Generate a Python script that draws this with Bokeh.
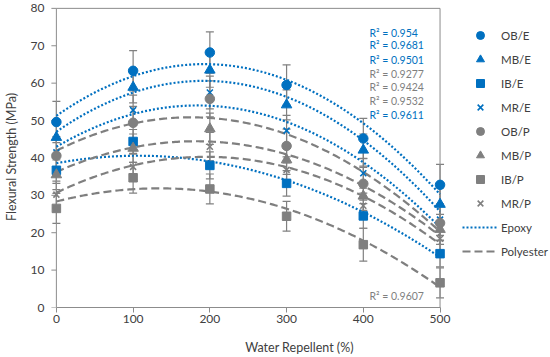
import numpy as np
from bokeh.plotting import figure
from bokeh.models import (Range1d, FixedTicker, Legend, LegendItem, Label,
                          Whisker, ColumnDataSource, TeeHead)
from bokeh.embed import file_html
from bokeh.resources import INLINE

# ---------------- data ----------------
water_repellent = [0, 100, 200, 300, 400, 500]
series_names = ["OB/E", "MB/E", "IB/E", "MR/E", "OB/P", "MB/P", "IB/P", "MR/P"]
resin = ["E", "E", "E", "E", "P", "P", "P", "P"]

ob_e = [49.6, 63.3, 68.2, 59.5, 45.2, 32.8]
mb_e = [45.5, 58.9, 63.5, 54.2, 42.1, 27.6]
ib_e = [36.7, 44.4, 38.0, 33.2, 24.5, 14.4]
mr_e = [41.5, 52.8, 57.5, 47.3, 35.9, 23.5]
ob_p = [40.6, 49.4, 55.8, 43.2, 33.1, 22.6]
mb_p = [35.5, 42.6, 47.8, 39.5, 29.8, 20.9]
ib_p = [26.5, 34.7, 31.7, 24.4, 16.8, 6.6]
mr_p = [30.2, 37.6, 43.0, 36.8, 27.2, 18.4]

err_ob_e = [5.5, 5.4, 5.5, 5.4, 5.4, 5.5]
err_mb_e = [4.5, 4.2, 4.6, 4.0, 4.3, 4.4]
err_ib_e = [3.5, 3.2, 3.6, 3.4, 3.3, 3.5]
err_mr_e = [4.2, 4.0, 4.4, 4.1, 4.0, 4.2]
err_ob_p = [4.6, 4.4, 4.8, 4.5, 4.4, 4.6]
err_mb_p = [4.0, 3.8, 4.2, 3.9, 3.8, 4.0]
err_ib_p = [4.0, 4.1, 4.0, 4.0, 4.4, 4.0]
err_mr_p = [3.6, 3.4, 3.8, 3.5, 3.4, 3.6]

values = [ob_e, mb_e, ib_e, mr_e, ob_p, mb_p, ib_p, mr_p]
errors = [err_ob_e, err_mb_e, err_ib_e, err_mr_e, err_ob_p, err_mb_p, err_ib_p, err_mr_p]

r2_text = ["R² = 0.954", "R² = 0.9681", "R² = 0.9501", "R² = 0.9277",
           "R² = 0.9424", "R² = 0.9532", "R² = 0.9611"]
r2_resin = ["E", "E", "E", "P", "P", "P", "E"]
r2_bottom_text = "R² = 0.9607"

x_ticks = [0, 100, 200, 300, 400, 500]
y_ticks = [0, 10, 20, 30, 40, 50, 60, 70, 80]
legend_resins = ["Epoxy", "Polyester"]

# ---------------- styles / layout ----------------
BLUE = "#0070C0"
GRAY = "#7F7F7F"
AXC = "#8C8C8C"
TXT = "#404040"
FONT = "Lato"
markers = ["circle", "triangle", "square", "x", "circle", "triangle", "square", "x"]
sizes = [9.5, 10.5, 8.5, 8.5, 9.5, 10.5, 8.5, 8.5]
colors = {"E": BLUE, "P": GRAY}
dashes = {"E": "2 2", "P": "8 4"}

W, H = 550, 357
LEFT, TOP, BOTTOM = 41, 6, 49
scale_x = 389 / 500          # px per % on x
pad = 8 / scale_x            # frame starts 8px left of x=0
x_end = -pad + (W - LEFT) / scale_x

p = figure(width=W, height=H, output_backend="svg", toolbar_location=None,
           x_range=Range1d(-pad, x_end), y_range=Range1d(0, 80.5),
           min_border_left=LEFT, min_border_right=0, min_border_top=TOP,
           min_border_bottom=BOTTOM)
p.outline_line_color = None
p.xgrid.visible = False
p.ygrid.visible = False

for ax in (p.xaxis, p.yaxis):
    ax.minor_tick_line_color = None
    ax.major_label_text_font = FONT
    ax.major_label_text_font_size = "12px"
    ax.major_label_text_color = TXT
    ax.axis_label_text_font = FONT
    ax.axis_label_text_font_size = "12.5px"
    ax.axis_label_text_font_style = "normal"
    ax.axis_label_text_color = TXT

p.xaxis.ticker = FixedTicker(ticks=x_ticks)
p.xaxis.bounds = (0, 500)
p.xaxis.axis_line_color = AXC
p.xaxis.major_tick_line_color = AXC
p.xaxis.major_tick_in = 0
p.xaxis.major_tick_out = 5
p.xaxis.major_label_standoff = 2
p.xaxis.axis_label = "Water Repellent (%)"
p.xaxis.axis_label_standoff = 14

p.yaxis.ticker = FixedTicker(ticks=y_ticks)
p.yaxis.axis_line_color = None
p.yaxis.major_tick_line_color = None
p.yaxis.major_tick_in = 0
p.yaxis.major_tick_out = 0
p.yaxis.major_label_standoff = 4
p.yaxis.axis_label = "Flexural Strength (MPa)"
p.yaxis.axis_label_standoff = 9

# y-axis line at x = 0 plus top / right frame of the chart box
p.line([x_ticks[0], x_ticks[0], x_ticks[-1], x_ticks[-1]],
       [y_ticks[0], y_ticks[-1], y_ticks[-1], y_ticks[0]],
       line_color=AXC, line_width=1)
p.ray(x=[x_ticks[0]] * len(y_ticks), y=y_ticks, length=5, length_units="screen",
      angle=np.pi, line_color=AXC, line_width=1)

# trend lines (2nd-order polynomial fits)
xs = np.linspace(0, 500, 201)
trend_r = {}
for name, vals, rs in zip(series_names, values, resin):
    c = np.polyfit(water_repellent, vals, 2)
    r = p.line(xs, np.polyval(c, xs), line_color=colors[rs], line_width=2.2,
               line_dash=dashes[rs])
    trend_r.setdefault(rs, r)

# error bars
for vals, errs in zip(values, errors):
    src = ColumnDataSource(dict(x=water_repellent,
                                lo=[v - e for v, e in zip(vals, errs)],
                                hi=[v + e for v, e in zip(vals, errs)]))
    w = Whisker(base="x", lower="lo", upper="hi", source=src,
                line_color="#808080", line_width=1.2,
                upper_head=TeeHead(size=8, line_color="#808080", line_width=1.2),
                lower_head=TeeHead(size=8, line_color="#808080", line_width=1.2))
    p.add_layout(w)

# markers
scatter_r = []
for name, vals, rs, m, s in zip(series_names, values, resin, markers, sizes):
    r = p.scatter(water_repellent, vals, marker=m, size=s,
                  fill_color=colors[rs], line_color=colors[rs],
                  line_width=1.6 if m == "x" else 1)
    scatter_r.append(r)

# R² labels
r2_y = [73.5, 70.3, 66.1, 62.4, 58.9, 55.3, 51.5]
for t, rs, yy in zip(r2_text, r2_resin, r2_y):
    p.add_layout(Label(x=408, y=yy, text=t, text_color=colors[rs], text_font=FONT,
                       text_font_size="10.5px", text_baseline="middle"))
p.add_layout(Label(x=408, y=3.2, text=r2_bottom_text, text_color=GRAY, text_font=FONT,
                   text_font_size="10.5px", text_baseline="middle"))

# legend (inside the wide frame, right of the chart box)
items = [LegendItem(label=n, renderers=[r]) for n, r in zip(series_names, scatter_r)]
items += [LegendItem(label=legend_resins[0], renderers=[trend_r["E"]]),
          LegendItem(label=legend_resins[1], renderers=[trend_r["P"]])]
legend = Legend(items=items, location=(455 - LEFT, 46), margin=0, padding=0, spacing=4,
                glyph_width=36, glyph_height=20, label_height=20, label_standoff=3,
                label_text_font=FONT, label_text_font_size="11.5px",
                label_text_color=TXT, border_line_color=None,
                background_fill_alpha=0)
p.add_layout(legend)

open("out.html", "w").write(file_html(p, INLINE))
